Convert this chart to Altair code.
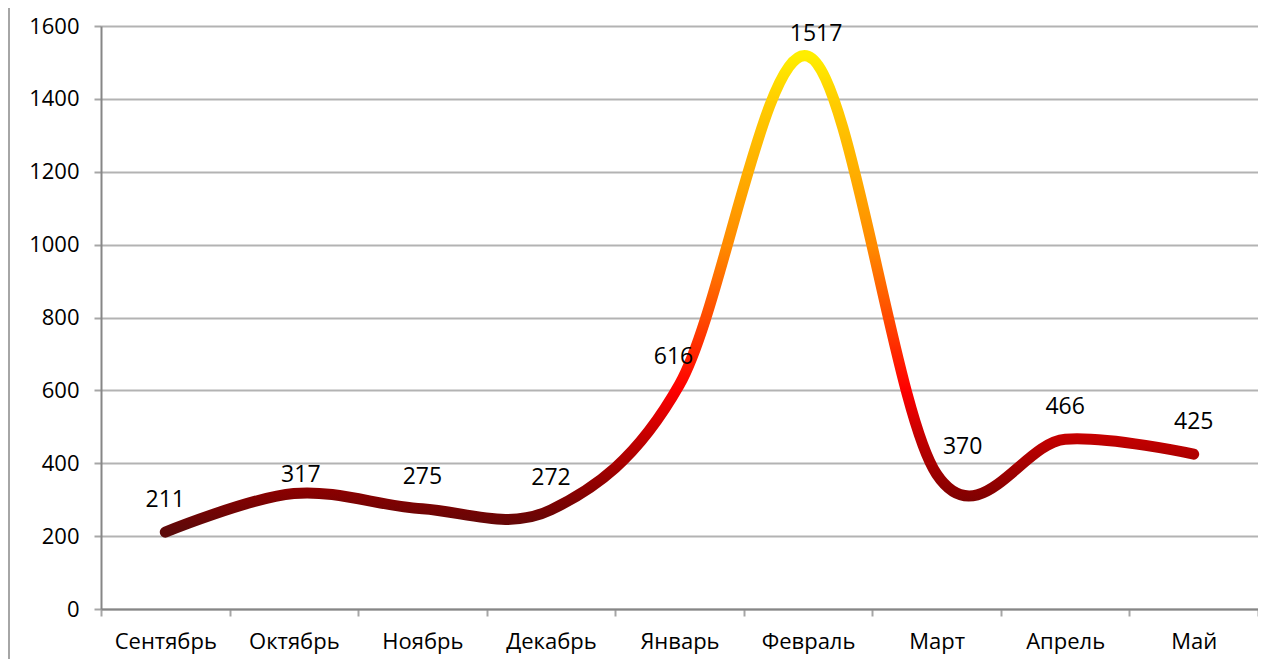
import altair as alt
import pandas as pd

months = ["Сентябрь", "Октябрь", "Ноябрь", "Декабрь", "Январь", "Февраль", "Март", "Апрель", "Май"]
values = [211, 317, 275, 272, 616, 1517, 370, 466, 425]
y_ticks = [0, 200, 400, 600, 800, 1000, 1200, 1400, 1600]

df = pd.DataFrame({"month": months, "value": values})

W, H = 1157, 583
FONT = "Open Sans"

x_enc = alt.X("month:N", sort=months,
              scale=alt.Scale(type="band", paddingInner=0, paddingOuter=0),
              axis=alt.Axis(title=None, tickBand="extent", grid=False,
                            labelFontSize=22, labelFont=FONT, labelColor="#000000",
                            labelPadding=15, tickSize=7, tickColor="#a6a6a6", tickWidth=2,
                            domainColor="#868686", domainWidth=2, labelAngle=0))
y_enc = alt.Y("value:Q", scale=alt.Scale(domain=[0, 1600], nice=False),
              axis=alt.Axis(title=None, values=y_ticks, format="d", grid=True,
                            gridColor="#b3b3b3", gridWidth=2, labelFontSize=22,
                            labelFont=FONT, labelColor="#000000", labelPadding=15,
                            tickSize=7, tickColor="#a6a6a6", tickWidth=2,
                            domainColor="#868686", domainWidth=2))

grad = alt.Gradient(
    gradient="linear", x1=0, x2=0, y1=1, y2=0,
    stops=[
        alt.GradientStop(offset=0.0, color="#5c0a0a"),
        alt.GradientStop(offset=0.04, color="#700404"),
        alt.GradientStop(offset=0.09, color="#8b0000"),
        alt.GradientStop(offset=0.2, color="#c40000"),
        alt.GradientStop(offset=0.3, color="#ff0000"),
        alt.GradientStop(offset=0.45, color="#ff4a00"),
        alt.GradientStop(offset=0.6, color="#ff8a00"),
        alt.GradientStop(offset=0.75, color="#ffad00"),
        alt.GradientStop(offset=0.9, color="#ffcc00"),
        alt.GradientStop(offset=1.0, color="#ffee00"),
    ],
)

line = alt.Chart(df).mark_line(
    interpolate="cardinal", strokeWidth=11, strokeCap="round", strokeJoin="round",
    stroke=grad
).encode(x=x_enc, y=y_enc)

base_text = dict(fontSize=23, font=FONT, color="#000000", baseline="bottom", align="center")


def lbl(expr, dx, dy):
    return alt.Chart(df).transform_filter(expr).mark_text(dx=dx, dy=dy, **base_text).encode(
        x=alt.X("month:N", sort=months), y="value:Q", text="value:Q")


labels_main = lbl("indexof(['Октябрь','Февраль','Март','Январь'], datum.month) < 0", 0, -20)
labels_oct = lbl("datum.month == 'Октябрь'", 7, -6)
labels_feb = lbl("datum.month == 'Февраль'", 8, -10)
labels_jan = lbl("datum.month == 'Январь'", -6, -16)
labels_mar = lbl("datum.month == 'Март'", 26, -15)

border = alt.Chart(df).mark_rule(color="#a6a6a6", strokeWidth=2, clip=False).encode(
    x=alt.value(-92), y=alt.value(-20), y2=alt.value(H + 60))

chart = alt.layer(line, labels_main, labels_oct, labels_feb, labels_jan, labels_mar, border).properties(
    width=W, height=H,
    autosize=alt.AutoSizeParams(type="none"),
    padding={"left": 93, "top": 18, "right": 0, "bottom": 50},
).configure_view(stroke=None).configure(background="#ffffff")

chart.save("out.html", embed_options={"renderer": "svg", "actions": False})
